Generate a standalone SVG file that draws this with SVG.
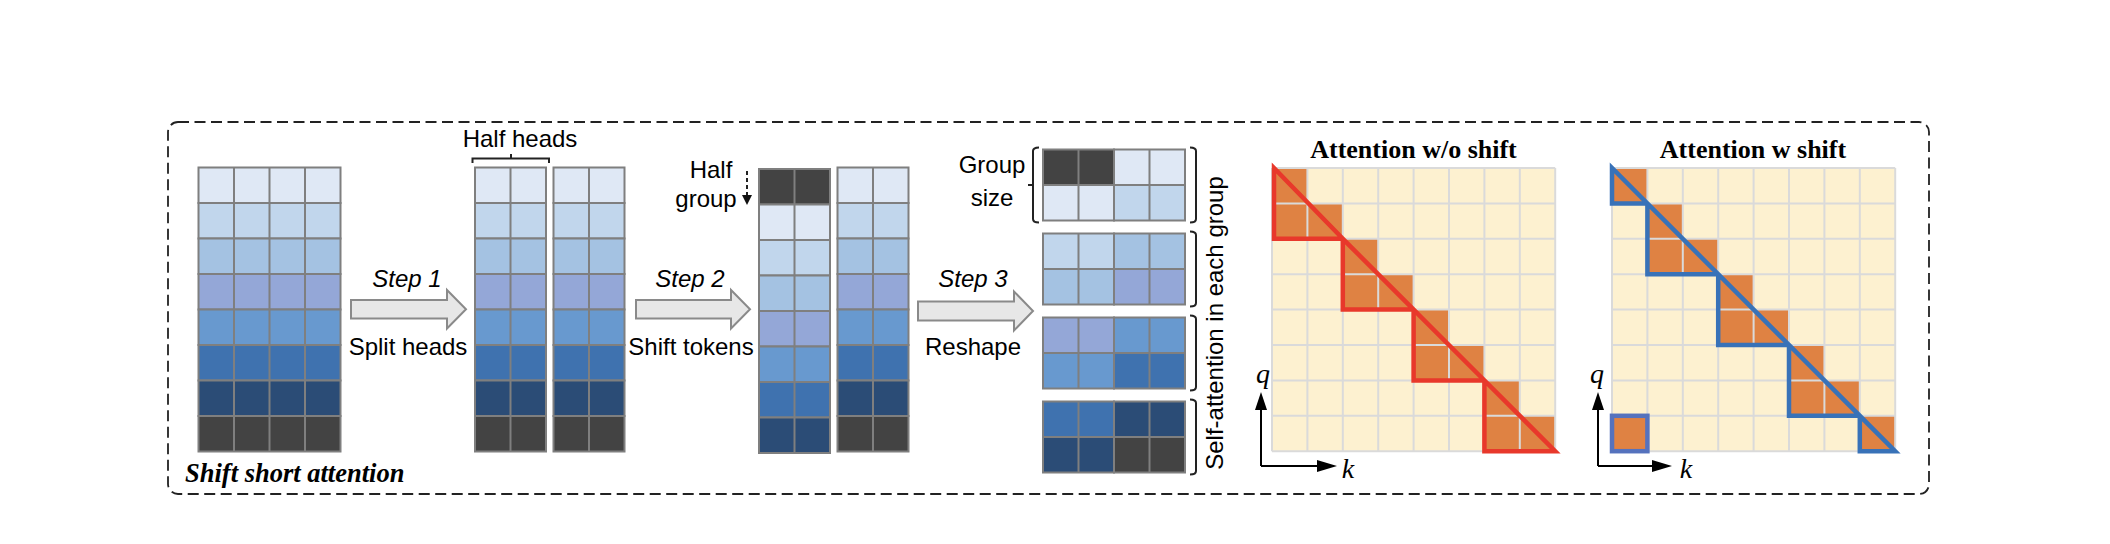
<svg xmlns="http://www.w3.org/2000/svg" width="2110" height="544" viewBox="0 0 2110 544">
<style>
.c{stroke:#7f7f7f;stroke-width:2}
.gl{stroke:#7f7f7f;stroke-width:2;fill:none}
.l0{fill:#dfe8f5}.l1{fill:#c1d6ec}.l2{fill:#a4c2e2}.l3{fill:#94a7d7}.l4{fill:#6899cf}.l5{fill:#3f72af}.l6{fill:#2b4c76}.l7{fill:#434343}
.t{font-family:"Liberation Sans",Arial,sans-serif;font-size:24px;fill:#000}
.it{font-style:italic}
.ttl{font-family:"Liberation Serif","Times New Roman",serif;font-weight:bold;font-size:26px;fill:#000}
.ax{font-family:"Liberation Serif","Times New Roman",serif;font-style:italic;font-size:28px;fill:#000}
.blk{fill:#e7e7e7;stroke:#8a8a8a;stroke-width:2}
.br{fill:none;stroke:#222;stroke-width:2}
.bg{fill:#fdf1d0}
.or{fill:#df8243}
.ag{stroke:#dadada;stroke-width:2;fill:none}
.red{fill:none;stroke:#e8382b;stroke-width:4.5;stroke-linejoin:miter}
.blu{fill:none;stroke:#3872b8;stroke-width:4.5;stroke-linejoin:miter}
.axl{stroke:#000;stroke-width:2;fill:none}
</style>

<g id="frame">
<rect x="168" y="122" width="1761" height="372" rx="10" fill="none" stroke="#222" stroke-width="1.8" stroke-dasharray="11 5.5"/>
<text x="185" y="482" font-family="'Liberation Serif','Times New Roman',serif" font-weight="bold" font-style="italic" font-size="26.5">Shift short attention</text>
</g>

<g id="input-grid">
<rect class="c l0" x="198.5" y="167.5" width="142" height="35.5"/>
<rect class="c l1" x="198.5" y="203" width="142" height="35.5"/>
<rect class="c l2" x="198.5" y="238.5" width="142" height="35.5"/>
<rect class="c l3" x="198.5" y="274" width="142" height="35.5"/>
<rect class="c l4" x="198.5" y="309.5" width="142" height="35.5"/>
<rect class="c l5" x="198.5" y="345" width="142" height="35.5"/>
<rect class="c l6" x="198.5" y="380.5" width="142" height="35.5"/>
<rect class="c l7" x="198.5" y="416" width="142" height="35.5"/>
<path class="gl" d="M234 167.5V451.5M269.5 167.5V451.5M305 167.5V451.5"/>
</g>

<g id="half-heads-a">
<rect class="c l0" x="475" y="167.5" width="71" height="35.5"/>
<rect class="c l1" x="475" y="203" width="71" height="35.5"/>
<rect class="c l2" x="475" y="238.5" width="71" height="35.5"/>
<rect class="c l3" x="475" y="274" width="71" height="35.5"/>
<rect class="c l4" x="475" y="309.5" width="71" height="35.5"/>
<rect class="c l5" x="475" y="345" width="71" height="35.5"/>
<rect class="c l6" x="475" y="380.5" width="71" height="35.5"/>
<rect class="c l7" x="475" y="416" width="71" height="35.5"/>
<path class="gl" d="M510.5 167.5V451.5"/>
</g>

<g id="half-heads-b">
<rect class="c l0" x="553.5" y="167.5" width="71" height="35.5"/>
<rect class="c l1" x="553.5" y="203" width="71" height="35.5"/>
<rect class="c l2" x="553.5" y="238.5" width="71" height="35.5"/>
<rect class="c l3" x="553.5" y="274" width="71" height="35.5"/>
<rect class="c l4" x="553.5" y="309.5" width="71" height="35.5"/>
<rect class="c l5" x="553.5" y="345" width="71" height="35.5"/>
<rect class="c l6" x="553.5" y="380.5" width="71" height="35.5"/>
<rect class="c l7" x="553.5" y="416" width="71" height="35.5"/>
<path class="gl" d="M589 167.5V451.5"/>
</g>

<g id="half-heads-label">
<text class="t" x="520" y="147" text-anchor="middle">Half heads</text>
<path class="br" d="M472.5 163V158.5H549V163M511 158.5V154"/>
</g>

<g id="shifted-a">
<rect class="c l7" x="759" y="169" width="71" height="35.5"/>
<rect class="c l0" x="759" y="204.5" width="71" height="35.5"/>
<rect class="c l1" x="759" y="240" width="71" height="35.5"/>
<rect class="c l2" x="759" y="275.5" width="71" height="35.5"/>
<rect class="c l3" x="759" y="311" width="71" height="35.5"/>
<rect class="c l4" x="759" y="346.5" width="71" height="35.5"/>
<rect class="c l5" x="759" y="382" width="71" height="35.5"/>
<rect class="c l6" x="759" y="417.5" width="71" height="35.5"/>
<path class="gl" d="M794.5 169V453"/>
</g>

<g id="shifted-b">
<rect class="c l0" x="837.5" y="167.5" width="71" height="35.5"/>
<rect class="c l1" x="837.5" y="203" width="71" height="35.5"/>
<rect class="c l2" x="837.5" y="238.5" width="71" height="35.5"/>
<rect class="c l3" x="837.5" y="274" width="71" height="35.5"/>
<rect class="c l4" x="837.5" y="309.5" width="71" height="35.5"/>
<rect class="c l5" x="837.5" y="345" width="71" height="35.5"/>
<rect class="c l6" x="837.5" y="380.5" width="71" height="35.5"/>
<rect class="c l7" x="837.5" y="416" width="71" height="35.5"/>
<path class="gl" d="M873 167.5V451.5"/>
</g>

<g id="half-group-label">
<text class="t" x="711" y="178" text-anchor="middle">Half</text>
<text class="t" x="706" y="207" text-anchor="middle">group</text>
<path d="M747 171V196" stroke="#222" stroke-width="2" stroke-dasharray="4 3"/>
<polygon points="742,195 752,195 747,205" fill="#111"/>
</g>

<g id="group-1">
<rect class="c l7" x="1043" y="149.5" width="71" height="35.5"/>
<rect class="c l0" x="1114" y="149.5" width="71" height="35.5"/>
<rect class="c l0" x="1043" y="185" width="71" height="35.5"/>
<rect class="c l1" x="1114" y="185" width="71" height="35.5"/>
<path class="gl" d="M1078.5 149.5V220.5M1149.5 149.5V220.5"/>
</g>
<g id="group-2">
<rect class="c l1" x="1043" y="233.5" width="71" height="35.5"/>
<rect class="c l2" x="1114" y="233.5" width="71" height="35.5"/>
<rect class="c l2" x="1043" y="269" width="71" height="35.5"/>
<rect class="c l3" x="1114" y="269" width="71" height="35.5"/>
<path class="gl" d="M1078.5 233.5V304.5M1149.5 233.5V304.5"/>
</g>
<g id="group-3">
<rect class="c l3" x="1043" y="317.5" width="71" height="35.5"/>
<rect class="c l4" x="1114" y="317.5" width="71" height="35.5"/>
<rect class="c l4" x="1043" y="353" width="71" height="35.5"/>
<rect class="c l5" x="1114" y="353" width="71" height="35.5"/>
<path class="gl" d="M1078.5 317.5V388.5M1149.5 317.5V388.5"/>
</g>
<g id="group-4">
<rect class="c l5" x="1043" y="401.5" width="71" height="35.5"/>
<rect class="c l6" x="1114" y="401.5" width="71" height="35.5"/>
<rect class="c l6" x="1043" y="437" width="71" height="35.5"/>
<rect class="c l7" x="1114" y="437" width="71" height="35.5"/>
<path class="gl" d="M1078.5 401.5V472.5M1149.5 401.5V472.5"/>
</g>

<g id="group-brackets">
<path class="br" d="M1190 147.5Q1196 147.5 1196 151V219Q1196 222.5 1190 222.5"/>
<path class="br" d="M1190 231.5Q1196 231.5 1196 235V303Q1196 306.5 1190 306.5"/>
<path class="br" d="M1190 315.5Q1196 315.5 1196 319V387Q1196 390.5 1190 390.5"/>
<path class="br" d="M1190 399.5Q1196 399.5 1196 403V471Q1196 474.5 1190 474.5"/>
<path class="br" d="M1039 147.5Q1033 147.5 1033 151V219Q1033 222.5 1039 222.5M1033 185H1028"/>
<text class="t" x="992" y="173" text-anchor="middle">Group</text>
<text class="t" x="992" y="206" text-anchor="middle">size</text>
<text class="t" transform="translate(1223,323) rotate(-90)" text-anchor="middle">Self-attention in each group</text>
</g>

<g id="connectors">
<polygon class="blk" points="351,300 447,300 447,290 466,309.3 447,328.5 447,318.5 351,318.5"/>
<text class="t it" x="407" y="287" text-anchor="middle">Step 1</text>
<text class="t" x="408" y="355" text-anchor="middle">Split heads</text>
<polygon class="blk" points="636,300 731,300 731,290 750,309.3 731,328.5 731,318.5 636,318.5"/>
<text class="t it" x="690" y="287" text-anchor="middle">Step 2</text>
<text class="t" x="691" y="355" text-anchor="middle">Shift tokens</text>
<polygon class="blk" points="918,301.5 1014,301.5 1014,291.5 1033,311 1014,330.5 1014,320.5 918,320.5"/>
<text class="t it" x="973" y="287" text-anchor="middle">Step 3</text>
<text class="t" x="973" y="355" text-anchor="middle">Reshape</text>
</g>

<g id="attn-no-shift">
<text class="ttl" x="1413.5" y="158" text-anchor="middle">Attention w/o shift</text>
<rect class="bg" x="1272" y="168" width="283.2" height="283.2"/>
<g class="or">
<rect x="1272" y="168" width="35.4" height="35.4"/>
<rect x="1272" y="203.4" width="70.8" height="35.4"/>
<rect x="1342.8" y="238.8" width="35.4" height="35.4"/>
<rect x="1342.8" y="274.2" width="70.8" height="35.4"/>
<rect x="1413.6" y="309.6" width="35.4" height="35.4"/>
<rect x="1413.6" y="345" width="70.8" height="35.4"/>
<rect x="1484.4" y="380.4" width="35.4" height="35.4"/>
<rect x="1484.4" y="415.8" width="70.8" height="35.4"/>
</g>
<path class="ag" d="M1272 168H1555.2M1272 203.4H1555.2M1272 238.8H1555.2M1272 274.2H1555.2M1272 309.6H1555.2M1272 345H1555.2M1272 380.4H1555.2M1272 415.8H1555.2M1272 451.2H1555.2M1272 168V451.2M1307.4 168V451.2M1342.8 168V451.2M1378.2 168V451.2M1413.6 168V451.2M1449 168V451.2M1484.4 168V451.2M1519.8 168V451.2M1555.2 168V451.2"/>
<path class="red" d="M1274 168V238.8H1342.8ZM1342.8 238.8V309.6H1413.6ZM1413.6 309.6V380.4H1484.4ZM1484.4 380.4V451.2H1555.2Z"/>
<path class="axl" d="M1261 466V406M1261 466H1320"/>
<polygon points="1255,410 1267,410 1261,392" fill="#000"/>
<polygon points="1317,460 1317,472 1337,466" fill="#000"/>
<text class="ax" x="1263" y="383" text-anchor="middle">q</text>
<text class="ax" x="1348" y="478" text-anchor="middle">k</text>
</g>

<g id="attn-shift">
<text class="ttl" x="1753" y="158" text-anchor="middle">Attention w shift</text>
<rect class="bg" x="1612" y="168" width="283.2" height="283.2"/>
<g class="or">
<rect x="1612" y="168" width="35.4" height="35.4"/>
<rect x="1647.4" y="203.4" width="35.4" height="35.4"/>
<rect x="1647.4" y="238.8" width="70.8" height="35.4"/>
<rect x="1718.2" y="274.2" width="35.4" height="35.4"/>
<rect x="1718.2" y="309.6" width="70.8" height="35.4"/>
<rect x="1789" y="345" width="35.4" height="35.4"/>
<rect x="1789" y="380.4" width="70.8" height="35.4"/>
<rect x="1859.8" y="415.8" width="35.4" height="35.4"/>
<rect x="1612" y="415.8" width="35.4" height="35.4"/>
</g>
<path class="ag" d="M1612 168H1895.2M1612 203.4H1895.2M1612 238.8H1895.2M1612 274.2H1895.2M1612 309.6H1895.2M1612 345H1895.2M1612 380.4H1895.2M1612 415.8H1895.2M1612 451.2H1895.2M1612 168V451.2M1647.4 168V451.2M1682.8 168V451.2M1718.2 168V451.2M1753.6 168V451.2M1789 168V451.2M1824.4 168V451.2M1859.8 168V451.2M1895.2 168V451.2"/>
<path class="blu" d="M1612 168V203.4H1647.4ZM1647.4 203.4V274.2H1718.2ZM1718.2 274.2V345H1789ZM1789 345V415.8H1859.8ZM1859.8 415.8V451.2H1895.2Z"/>
<rect x="1612" y="415.8" width="35.4" height="35.4" fill="none" stroke="#5572bd" stroke-width="4.5"/>
<path class="axl" d="M1598 466V406M1598 466H1655"/>
<polygon points="1592,410 1604,410 1598,392" fill="#000"/>
<polygon points="1652,460 1652,472 1672,466" fill="#000"/>
<text class="ax" x="1597" y="383" text-anchor="middle">q</text>
<text class="ax" x="1686" y="478" text-anchor="middle">k</text>
</g>
</svg>
